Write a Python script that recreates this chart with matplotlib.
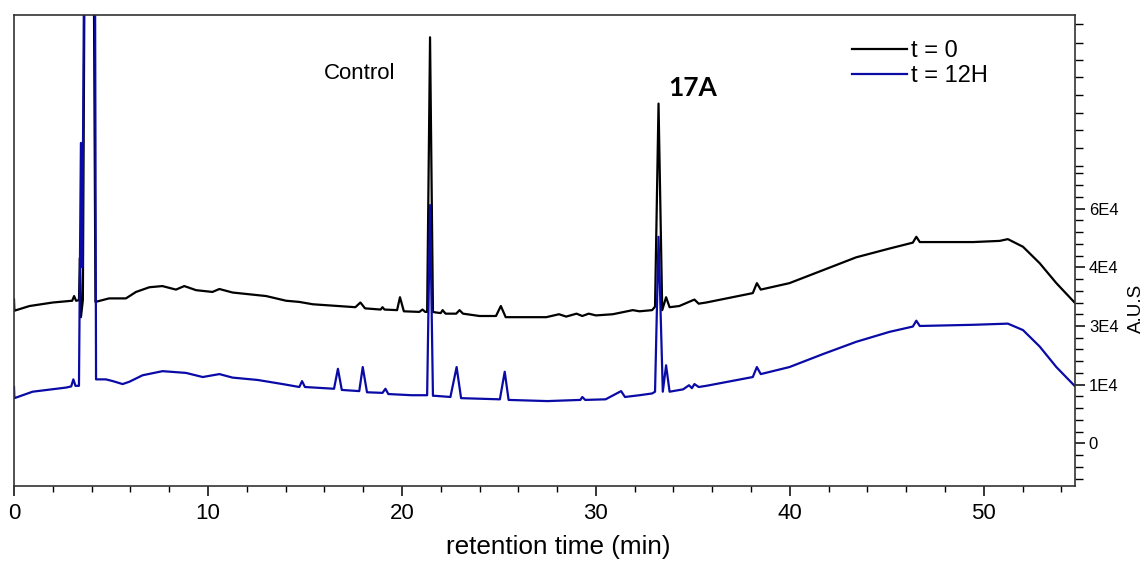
import matplotlib
matplotlib.use("Agg")
import matplotlib.pyplot as plt
from matplotlib.ticker import FixedLocator, FixedFormatter, MultipleLocator

plt.rcParams['font.family'] = ['Liberation Sans', 'DejaVu Sans']

# Chromatogram at t = 0 (retention time in min, detector signal)
t0_time = [0.0, 0.02, 0.8, 2.0, 3.0, 3.1, 3.2, 3.35, 3.4, 3.45, 3.55, 3.65, 4.1,
           4.2, 4.9, 5.77, 6.29, 6.98, 7.65, 8.35, 8.78, 9.39, 10.23, 10.59, 11.27,
           13.0, 14.03, 14.71, 15.4, 17.6, 17.86, 18.1, 18.9, 19.0, 19.1, 19.75,
           19.9, 20.1, 20.9, 21.06, 21.2, 21.3, 21.45, 21.6, 21.75, 22.0, 22.1,
           22.25, 22.8, 22.97, 23.15, 24.0, 24.85, 25.1, 25.35, 25.9, 27.44, 28.1,
           28.47, 29.0, 29.3, 29.63, 30.0, 30.87, 31.9, 32.25, 32.9, 33.05, 33.23,
           33.42, 33.62, 33.8, 34.3, 35.08, 35.3, 35.69, 38.09, 38.3, 38.5, 39.98,
           41.7, 43.42, 45.14, 46.34, 46.52, 46.7, 49.44, 50.82, 51.24, 52.02,
           52.88, 53.74, 54.68]
t0_signal = [2.45, 2.26, 2.34, 2.40, 2.43, 2.51, 2.43, 2.44, 3.16, 2.15, 2.44, 9.0, 9.0,
             2.41, 2.47, 2.47, 2.58, 2.66, 2.68, 2.62, 2.68, 2.61, 2.58, 2.63, 2.57,
             2.51, 2.43, 2.41, 2.37, 2.32, 2.40, 2.30, 2.28, 2.32, 2.28, 2.27,
             2.49, 2.25, 2.24, 2.28, 2.24, 2.24, 6.92, 2.24, 2.23, 2.22, 2.27,
             2.21, 2.21, 2.27, 2.21, 2.17, 2.17, 2.34, 2.15, 2.15, 2.15, 2.20,
             2.16, 2.21, 2.17, 2.21, 2.18, 2.20, 2.27, 2.25, 2.27, 2.33, 5.79,
             2.27, 2.49, 2.32, 2.34, 2.45, 2.38, 2.40, 2.56, 2.73, 2.62, 2.73,
             2.95, 3.17, 3.32, 3.42, 3.52, 3.43, 3.43, 3.45, 3.48, 3.35,
             3.07, 2.73, 2.40]

# Chromatogram after 12 h
t12_time = [0.0, 0.02, 0.96, 2.68, 2.95, 3.06, 3.17, 3.35, 3.45, 3.52, 3.63, 4.17,
            4.23, 4.74, 5.1, 5.6, 5.95, 6.63, 7.66, 8.87, 9.73, 10.59, 11.27, 12.56,
            13.85, 14.71, 14.85, 15.0, 16.5, 16.7, 16.9, 17.8, 17.98, 18.2, 19.0,
            19.15, 19.3, 20.5, 21.2, 21.3, 21.45, 21.6, 21.7, 22.5, 22.82, 23.05,
            25.05, 25.3, 25.5, 27.5, 29.2, 29.3, 29.45, 30.5, 31.3, 31.5, 32.25,
            32.9, 33.05, 33.23, 33.45, 33.62, 33.8, 34.5, 34.8, 34.95, 35.08, 35.3,
            35.69, 38.09, 38.3, 38.5, 39.98, 41.7, 43.42, 45.14, 46.34, 46.52, 46.7,
            49.44, 51.24, 52.02, 52.88, 53.74, 54.68]
t12_signal = [0.96, 0.77, 0.88, 0.95, 0.97, 1.09, 0.98, 0.98, 5.12, 3.0, 9.0, 9.0,
              1.09, 1.09, 1.06, 1.01, 1.05, 1.16, 1.23, 1.20, 1.13, 1.18, 1.12, 1.08,
              1.01, 0.96, 1.06, 0.96, 0.93, 1.27, 0.91, 0.89, 1.30, 0.87, 0.86,
              0.93, 0.84, 0.82, 0.82, 0.82, 4.06, 0.81, 0.81, 0.79, 1.30, 0.77,
              0.75, 1.22, 0.74, 0.72, 0.74, 0.79, 0.74, 0.75, 0.89, 0.79, 0.82,
              0.85, 0.88, 3.52, 0.88, 1.33, 0.88, 0.92, 0.99, 0.94, 1.01, 0.96,
              0.98, 1.13, 1.30, 1.18, 1.30, 1.52, 1.73, 1.90, 1.99, 2.09, 2.00,
              2.02, 2.04, 1.93, 1.65, 1.30, 0.98]

series_labels = ["t = 0", "t = 12H"]
series_colors = ["#000000", "#0a0aa6"]

ytick_pos = [0, 1, 2, 3, 4]
ytick_labels = ["0", "1E4", "3E4", "4E4", "6E4"]
yminor_pos = [-0.6, -0.4, -0.2, 0.2, 0.4, 0.6, 0.8, 1.2, 1.4, 1.6, 1.8,
              2.2, 2.4, 2.6, 2.8, 3.2, 3.4, 3.6, 3.8, 4.2, 4.4, 4.6,
              4.73, 5.04, 5.34, 5.63, 5.93, 6.24, 6.53, 6.83, 7.14]

fig = plt.figure(figsize=(11.47, 5.61), dpi=100)
ax = fig.add_axes([0.0122, 0.1337, 0.9250, 0.8396])

ax.plot(t0_time, t0_signal, color=series_colors[0], lw=1.6, label=series_labels[0])
ax.plot(t12_time, t12_signal, color=series_colors[1], lw=1.6, label=series_labels[1])

ax.set_xlim(0, 54.7)
ax.set_ylim(-0.727, 7.30)

ax.xaxis.set_major_locator(MultipleLocator(10))
ax.xaxis.set_minor_locator(MultipleLocator(2))
ax.tick_params(axis='x', which='major', direction='out', length=7, width=1.1,
               labelsize=16, top=False, pad=5)
ax.tick_params(axis='x', which='minor', direction='out', length=4, width=1.0, top=False)

ax.yaxis.tick_right()
ax.yaxis.set_major_locator(FixedLocator(ytick_pos))
ax.yaxis.set_major_formatter(FixedFormatter(ytick_labels))
ax.yaxis.set_minor_locator(FixedLocator(yminor_pos))
ax.tick_params(axis='y', which='major', direction='out', length=7, width=1.1,
               labelsize=12, left=False, right=True, pad=3)
ax.tick_params(axis='y', which='minor', direction='out', length=6, width=1.0,
               left=False, right=True)

for sp in ax.spines.values():
    sp.set_color('#333333')
    sp.set_linewidth(1.2)

ax.set_xlabel("retention time (min)", fontsize=18.8)
ax.xaxis.set_label_coords(0.513, -0.1295)
ax.xaxis.label.set_va('center')

ax.set_ylabel("A.U.S", fontsize=13.5)
ax.yaxis.set_label_position('right')
ax.yaxis.set_label_coords(1.0575, 0.378)
ax.yaxis.label.set_va('center')
ax.yaxis.label.set_ha('center')

ax.text(16.0, 6.30, "Control", fontsize=16, ha='left', va='center')
ax.text(33.74, 6.05, "17A", fontsize=19, fontweight='bold', ha='left', va='center',
        family=['Lato', 'DejaVu Sans'])

ax.legend(loc='upper left', bbox_to_anchor=(0.7895, 0.946), frameon=False,
          fontsize=17, handlelength=2.33, handletextpad=0.17, labelspacing=0.1,
          borderaxespad=0, borderpad=0)

fig.savefig("out.png", dpi=100)
